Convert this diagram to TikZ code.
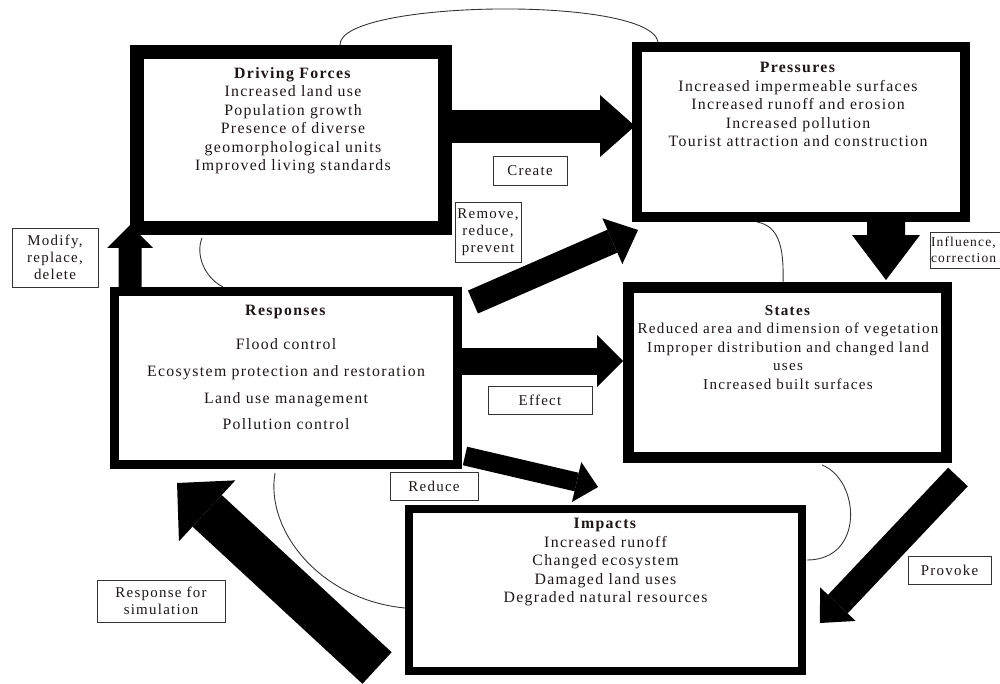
\documentclass[tikz,border=0pt]{standalone}
\usepackage{fontspec}
\setmainfont{Liberation Serif}[LetterSpace=8.5]
\usepackage{tikz}
\usetikzlibrary{arrows.meta,positioning,calc}
\definecolor{cInk}{HTML}{1E1616}
\definecolor{cLine}{HTML}{000000}
\definecolor{cThin}{HTML}{333333}
\tikzset{
  box/.style={draw=cLine, line width=#1, fill=white, inner sep=0pt},
  txt/.style={align=center, font=\fontsize{9}{10.5}\selectfont, text=cInk,
              inner sep=0pt},
  tag/.style={draw=cThin, line width=0.5pt, fill=white, align=center,
              font=\fontsize{8.5}{9.8}\selectfont, text=cInk, inner sep=0pt},
  blk/.style n args={3}{draw=cLine, line width=#1,
              -{Triangle[width=#2, length=#3, line width=0pt]}},
  link/.style={draw=cThin, line width=0.5pt},
}

\begin{document}
\begin{tikzpicture}[x=0.02cm, y=-0.02cm]
  \clip (0,0) rectangle (1000,683);

  % the five DPSIR boxes
  \node[box=0.28cm, minimum width=6.16cm, minimum height=3.52cm] (df) at (291,140) {};
  \node[box=0.20cm, minimum width=6.56cm, minimum height=3.40cm] (pr) at (801,132) {};
  \node[box=0.22cm, minimum width=6.36cm, minimum height=3.40cm] (st) at (787.5,372.5) {};
  \node[box=0.18cm, minimum width=6.86cm, minimum height=3.46cm] (rs) at (286,378) {};
  \node[box=0.16cm, minimum width=7.86cm, minimum height=3.24cm] (im) at (605.5,590) {};

  \node[txt, anchor=north] (dfT) at ($(df.north)+(2,22)$)
    {\textbf{Driving Forces}\\Increased land use\\Population growth\\Presence of diverse\\geomorphological units\\Improved living standards};
  \node[txt, anchor=north] (prT) at ($(pr.north)+(-3,20)$)
    {\textbf{Pressures}\\Increased impermeable surfaces\\Increased runoff and erosion\\Increased pollution\\Tourist attraction and construction};
  \node[txt, font=\fontsize{8.6}{10.5}\selectfont, anchor=north] (stT) at ($(st.north)+(0.5,23)$)
    {\textbf{States}\\Reduced area and dimension of vegetation\\Improper distribution and changed land\\uses\\Increased built surfaces};
  \node[txt, anchor=north] (rsT) at ($(rs.north)+(0,18)$)
    {\textbf{Responses}\\[9pt]Flood control\\[4.6pt]Ecosystem protection and restoration\\[4.6pt]Land use management\\[4.6pt]Pollution control};
  \node[txt, anchor=north] (imT) at ($(im.north)+(0,13)$)
    {\textbf{Impacts}\\Increased runoff\\Changed ecosystem\\Damaged land uses\\Degraded natural resources};

  % thin loops between neighbouring boxes
  \draw[link] ($(df.north west)+(210,0)$) .. controls +(-2,-45) and +(-8,-47) .. ($(pr.north west)+(26,0)$);
  \draw[link] ($(df.south west)+(72,3)$) .. controls +(-7,17) and +(-18,-9) .. ($(rs.north west)+(113,0)$);
  \draw[link] ($(pr.south west)+(125,0)$) .. controls +(21,4) and +(1,-37) .. ($(st.north west)+(160,0)$);
  \draw[link] ($(st.south west)+(199,2)$) .. controls +(38,15) and +(58,0) .. ($(im.east)+(1,-30)$);
  \draw[link] ($(rs.south west)+(165,4)$) .. controls +(-10,57) and +(-85,-8) .. ($(im.west)+(0,18)$);

  % block arrows
  \draw[blk={0.66cm}{1.24cm}{0.70cm}] ($(df.east)+(0,-14)$) -- ($(pr.west)+(3,-6)$);
  \draw[blk={0.76cm}{1.36cm}{0.90cm}] ($(pr.south)+(85,0)$) -- ($(st.north)+(98.5,-2)$);
  \draw[blk={0.46cm}{0.92cm}{0.46cm}] ($(rs.north west)+(20,0)$) -- ($(df.south west)+(0,-10)$);
  \draw[blk={0.50cm}{1.00cm}{0.56cm}] ($(rs.north east)+(11,15)$) -- ($(pr.south west)+(6,8)$);
  \draw[blk={0.54cm}{1.04cm}{0.52cm}] ($(rs.east)+(0,-17)$) -- ($(st.west)+(0,-11.5)$);
  \draw[blk={0.38cm}{0.82cm}{0.44cm}] ($(rs.south east)+(3,-13)$) -- ($(im.north west)+(193,-18)$);
  \draw[blk={0.54cm}{0.98cm}{0.52cm}] ($(st.south east)+(6,14)$) -- ($(im.east)+(14,33)$);
  \draw[blk={0.86cm}{1.66cm}{0.82cm}] ($(im.south west)+(-28,-7)$) -- ($(rs.south west)+(67,14)$);

  % arrow labels
  \node[tag, minimum width=1.48cm, minimum height=0.58cm] (create) at (530,170.5) {Create};
  \node[tag, minimum width=1.32cm, minimum height=1.20cm] (remove) at (488,232) {Remove,\\reduce,\\prevent};
  \node[tag, minimum width=1.72cm, minimum height=1.18cm] (modify) at (55,257.5) {Modify,\\replace,\\delete};
  \node[tag, font=\fontsize{7.7}{9.4}\selectfont, text width=1.44cm, align=left, inner xsep=0.02cm,
        minimum height=0.72cm] (influence) at (967,250) {Influence,\\correction};
  \node[tag, minimum width=2.08cm, minimum height=0.56cm] (effect) at (540,400) {Effect};
  \node[tag, minimum width=1.76cm, minimum height=0.56cm] (reduce) at (434,486) {Reduce};
  \node[tag, minimum width=2.56cm, minimum height=0.84cm] (simul) at (161,601) {Response for\\simulation};
  \node[tag, minimum width=1.66cm, minimum height=0.56cm] (provoke) at (949.5,570) {Provoke};
\end{tikzpicture}
\end{document}
